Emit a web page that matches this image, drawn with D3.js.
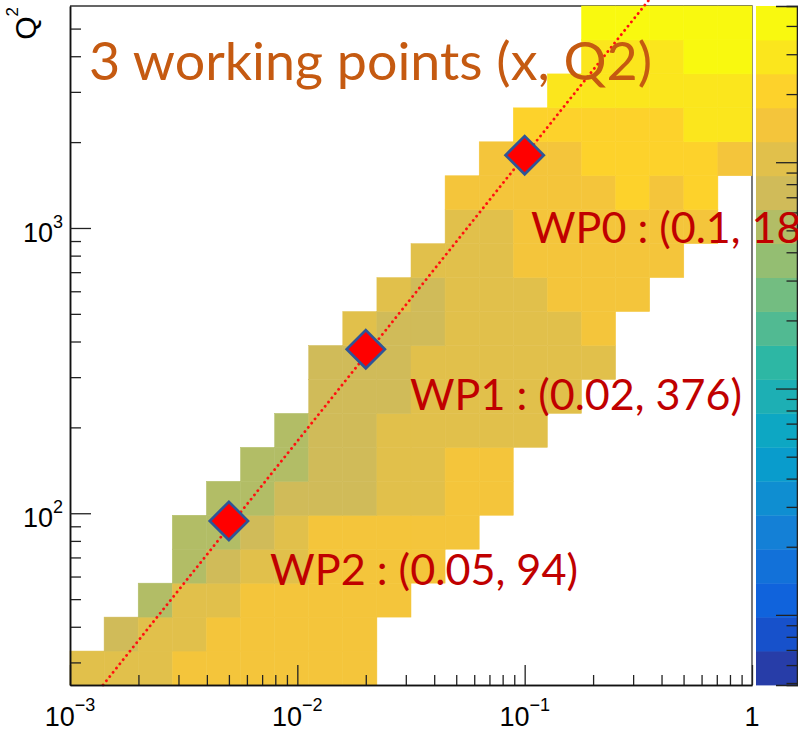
<!DOCTYPE html>
<html>
<head>
<meta charset="utf-8">
<script src="https://cdn.jsdelivr.net/npm/d3@7"></script>
<style>
  html, body { margin: 0; padding: 0; background: #ffffff; }
  svg { display: block; }
</style>
</head>
<body>
<svg id="chart" width="798" height="731"></svg>
<script>
// ---- Histogram binning: 20 log-spaced bins in x and in Q2 ----
const xRange = [1e-3, 1];
const q2Range = [25, 6000];
const nBinsX = 20;
const nBinsY = 20;

// Entries per bin; first row is the lowest Q2 bin, columns run from low to high x
const binCounts = [
  [1010,1090,1050,1520,1610,1580,1490,1440,1360,0,0,0,0,0,0,0,0,0,0,0],
  [0,790,960,1120,1580,1660,1540,1470,1390,0,0,0,0,0,0,0,0,0,0,0],
  [0,0,560,1080,1150,1630,1590,1500,1420,1310,0,0,0,0,0,0,0,0,0,0],
  [0,0,0,540,760,980,1110,1560,1480,1400,1290,0,0,0,0,0,0,0,0,0],
  [0,0,0,500,590,830,1060,1520,1450,1380,1320,1270,0,0,0,0,0,0,0,0],
  [0,0,0,0,510,580,800,830,780,1140,1170,1350,1280,0,0,0,0,0,0,0],
  [0,0,0,0,0,490,570,820,810,1050,1160,1330,1270,0,0,0,0,0,0,0],
  [0,0,0,0,0,0,530,780,830,1000,1120,1150,1090,940,0,0,0,0,0,0],
  [0,0,0,0,0,0,0,700,820,760,1030,1140,1180,1100,990,0,0,0,0,0],
  [0,0,0,0,0,0,0,720,830,790,1010,1150,1190,1160,1080,960,0,0,0,0],
  [0,0,0,0,0,0,0,0,930,840,800,1060,1170,1190,1140,1280,0,0,0,0],
  [0,0,0,0,0,0,0,0,0,950,835,1080,1180,1190,1300,1380,1260,0,0,0],
  [0,0,0,0,0,0,0,0,0,0,940,1120,1190,1320,1410,1460,1390,1280,0,0],
  [0,0,0,0,0,0,0,0,0,0,0,1010,1170,1350,1480,1560,1620,1530,1400,0],
  [0,0,0,0,0,0,0,0,0,0,0,1290,1440,1580,1650,1690,1850,1680,1880,0],
  [0,0,0,0,0,0,0,0,0,0,0,0,1420,1560,1680,1900,2050,2010,1950,1650],
  [0,0,0,0,0,0,0,0,0,0,0,0,0,1880,2050,2160,2230,2280,2560,2610],
  [0,0,0,0,0,0,0,0,0,0,0,0,0,0,2520,2700,2860,2950,3050,3150],
  [0,0,0,0,0,0,0,0,0,0,0,0,0,0,0,2780,3050,3250,3700,3900],
  [0,0,0,0,0,0,0,0,0,0,0,0,0,0,0,3800,4200,4500,4650,4800]
];

// ---- Colour axis (log z, 20 contours, bird palette) ----
const zRange = [4.9, 4900];
const nContours = 20;
const paletteSize = 255;
const paletteStops = [0.0, 0.125, 0.25, 0.375, 0.5, 0.625, 0.75, 0.875, 1.0];
const paletteRed   = [0.2082, 0.0592, 0.0780, 0.0232, 0.1802, 0.5301, 0.8186, 0.9956, 0.9764];
const paletteGreen = [0.1664, 0.3599, 0.5041, 0.6419, 0.7178, 0.7492, 0.7328, 0.7862, 0.9832];
const paletteBlue  = [0.5293, 0.8684, 0.8385, 0.7914, 0.6425, 0.4662, 0.3499, 0.1968, 0.0539];
const zMajorTicks = [10, 100, 1000];

// ---- Axis ticks ----
const xMajorTicks = [1e-3, 1e-2, 1e-1, 1];
const xTickBase = ["10", "10", "10", "1"];
const xTickSup = ["\u22123", "\u22122", "\u22121", ""];
const yMajorTicks = [100, 1000];
const yTickBase = ["10", "10"];
const yTickSup = ["2", "3"];

// ---- Working points and the line they sit on ----
const wpX = [0.1, 0.02, 0.005];
const wpQ2 = [1800, 376, 94];
const wpLabels = ["WP0 : (0.1, 1800)", "WP1 : (0.02, 376)", "WP2 : (0.05, 94)"];
const lineSlope = 17900;          // Q2 = lineSlope * x
const lineQ2Span = [25, 6400];
const titleText = "3 working points (x, Q2)";

// ---------------------------------------------------------------
const svg = d3.select("#chart");
const plot = { left: 70, right: 752, top: 6, bottom: 685 };
const bar = { left: 756, right: 797 };

const x = d3.scaleLog().domain(xRange).range([plot.left, plot.right]);
const y = d3.scaleLog().domain(q2Range).range([plot.bottom, plot.top]);
const zPos = d3.scaleLog().domain(zRange).range([plot.bottom, plot.top]);
const zLevel = d3.scaleLog().domain(zRange).range([0, nContours]);

function birdColor(f) {
  let k = 1;
  while (k < paletteStops.length - 1 && f > paletteStops[k]) k++;
  const t = (f - paletteStops[k - 1]) / (paletteStops[k] - paletteStops[k - 1]);
  const lerp = (a) => Math.round(255 * (a[k - 1] + t * (a[k] - a[k - 1])));
  return d3.rgb(lerp(paletteRed), lerp(paletteGreen), lerp(paletteBlue)).formatHex();
}
const levelColors = d3.range(nContours).map(i =>
  birdColor(Math.floor((i + 0.99) * paletteSize / nContours) / paletteSize));
function colorFor(v) {
  const lvl = Math.max(0, Math.min(nContours - 1, Math.floor(zLevel(v) + 0.01)));
  return levelColors[lvl];
}

// Log-spaced bin edges
const lx0 = Math.log10(xRange[0]), lx1 = Math.log10(xRange[1]);
const ly0 = Math.log10(q2Range[0]), ly1 = Math.log10(q2Range[1]);
const xEdges = d3.range(nBinsX + 1).map(i => Math.pow(10, lx0 + i * (lx1 - lx0) / nBinsX));
const yEdges = d3.range(nBinsY + 1).map(j => Math.pow(10, ly0 + j * (ly1 - ly0) / nBinsY));

// Frame (top and right edges sit underneath the bins)
svg.append("path")
  .attr("d", `M${plot.left},${plot.top}H${plot.right}V${plot.bottom}`)
  .attr("fill", "none").attr("stroke", "#333").attr("stroke-width", 1.3);

// Bins
const cells = [];
binCounts.forEach((row, j) => row.forEach((v, i) => {
  if (v > 0) cells.push({ i, j, v });
}));
svg.append("g").selectAll("rect").data(cells).join("rect")
  .attr("x", d => x(xEdges[d.i]))
  .attr("y", d => y(yEdges[d.j + 1]))
  .attr("width", d => x(xEdges[d.i + 1]) - x(xEdges[d.i]))
  .attr("height", d => y(yEdges[d.j]) - y(yEdges[d.j + 1]))
  .attr("fill", d => colorFor(d.v))
  .attr("stroke", d => colorFor(d.v))
  .attr("stroke-width", 0.5);

// Colour bar
const zl0 = Math.log10(zRange[0]), zl1 = Math.log10(zRange[1]);
const bandEdges = d3.range(nContours + 1).map(i => Math.pow(10, zl0 + i * (zl1 - zl0) / nContours));
svg.append("g").selectAll("rect").data(d3.range(nContours)).join("rect")
  .attr("x", bar.left)
  .attr("y", i => zPos(bandEdges[i + 1]))
  .attr("width", bar.right - bar.left)
  .attr("height", i => zPos(bandEdges[i]) - zPos(bandEdges[i + 1]) + 0.4)
  .attr("fill", i => levelColors[i]);

const zMinor = [];
for (let e = 0; e <= 3; e++) {
  for (let m = 1; m <= 9; m++) {
    const v = m * Math.pow(10, e);
    if (v >= zRange[0] && v <= zRange[1] && !zMajorTicks.includes(v)) zMinor.push(v);
  }
}
const zAxisMinor = d3.axisRight(zPos).tickValues(zMinor).tickSize(-10.5).tickFormat("");
const zAxisMajor = d3.axisRight(zPos).tickValues(zMajorTicks).tickSize(-21).tickFormat("");
[zAxisMinor, zAxisMajor].forEach(ax => {
  const g = svg.append("g").attr("transform", `translate(${bar.right},0)`).call(ax);
  g.select(".domain").attr("stroke", "#222").attr("stroke-width", 1.3);
  g.selectAll(".tick line").attr("stroke", "#222").attr("stroke-width", 1.3);
});

// Line of the working points (dotted)
const linePts = lineQ2Span.map(q => ({ xv: q / lineSlope, q }));
svg.append("path")
  .datum(linePts)
  .attr("d", d3.line().x(d => x(d.xv)).y(d => y(d.q)))
  .attr("fill", "none")
  .attr("stroke", "#ff1010")
  .attr("stroke-width", 2.8)
  .attr("stroke-linecap", "round")
  .attr("stroke-dasharray", "0.1 5.3");

// Axes: ticks pointing into the frame
function minorTicks(lo, hi) {
  const out = [];
  for (let e = Math.floor(Math.log10(lo)); e <= Math.ceil(Math.log10(hi)); e++) {
    for (let m = 2; m <= 9; m++) {
      const v = m * Math.pow(10, e);
      if (v > lo && v < hi) out.push(v);
    }
  }
  return out;
}
const axisStyle = g => {
  g.select(".domain").attr("stroke", "#111").attr("stroke-width", 1.5);
  g.selectAll(".tick line").attr("stroke", "#222").attr("stroke-width", 1.3);
};
svg.append("g").attr("transform", `translate(0,${plot.bottom})`)
  .call(d3.axisBottom(x).tickValues(minorTicks(xRange[0], xRange[1])).tickSize(-10).tickSizeOuter(0).tickFormat(""))
  .call(axisStyle);
svg.append("g").attr("transform", `translate(0,${plot.bottom})`)
  .call(d3.axisBottom(x).tickValues(xMajorTicks).tickSize(-20).tickSizeOuter(0).tickFormat(""))
  .call(axisStyle);
svg.append("g").attr("transform", `translate(${plot.left},0)`)
  .call(d3.axisLeft(y).tickValues(minorTicks(q2Range[0], q2Range[1])).tickSize(-11).tickSizeOuter(0).tickFormat(""))
  .call(axisStyle);
svg.append("g").attr("transform", `translate(${plot.left},0)`)
  .call(d3.axisLeft(y).tickValues(yMajorTicks).tickSize(-21).tickSizeOuter(0).tickFormat(""))
  .call(axisStyle);

// Tick labels with exponents
const axisFont = "'Liberation Sans', Arial, Helvetica, sans-serif";
xMajorTicks.forEach((v, k) => {
  const t = svg.append("text")
    .attr("x", x(v)).attr("y", plot.bottom + 41)
    .attr("text-anchor", "middle")
    .attr("font-family", axisFont).attr("font-size", 27).attr("fill", "#000");
  t.append("tspan").text(xTickBase[k]);
  if (xTickSup[k]) t.append("tspan").attr("dy", -15).attr("font-size", 18).text(xTickSup[k]);
});
yMajorTicks.forEach((v, k) => {
  const t = svg.append("text")
    .attr("x", plot.left - 7).attr("y", y(v) + 14)
    .attr("text-anchor", "end")
    .attr("font-family", axisFont).attr("font-size", 27).attr("fill", "#000");
  t.append("tspan").text(yTickBase[k]);
  t.append("tspan").attr("dy", -14).attr("font-size", 18).text(yTickSup[k]);
});

// Q2 axis title, rotated at the top of the axis
const yTitle = svg.append("text")
  .attr("transform", `translate(36,7) rotate(-90)`)
  .attr("text-anchor", "end")
  .attr("font-family", axisFont).attr("font-size", 30).attr("fill", "#000");
yTitle.append("tspan").text("Q");
yTitle.append("tspan").attr("dy", -18).attr("font-size", 17).text("2");

// Working point markers
svg.append("g").selectAll("path").data(wpX.map((xv, k) => ({ xv, q: wpQ2[k] }))).join("path")
  .attr("transform", d => `translate(${x(d.xv)},${y(d.q)}) rotate(45)`)
  .attr("d", d3.symbol(d3.symbolSquare, 730)())
  .attr("fill", "#ff0000")
  .attr("stroke", "#2f5597")
  .attr("stroke-width", 2.7);

// Annotations
const noteFont = "Lato, 'Open Sans', 'Noto Sans', sans-serif";
svg.append("text")
  .attr("x", 89).attr("y", 80)
  .attr("font-family", noteFont).attr("font-size", 52)
  .attr("fill", "#c55a11")
  .attr("textLength", 563).attr("lengthAdjust", "spacingAndGlyphs")
  .text(titleText);

const labelX = [531, 410, 270];
const labelY = [243, 410, 585];
const labelLen = [332, 332, 308];
wpLabels.forEach((s, k) => {
  svg.append("text")
    .attr("x", labelX[k]).attr("y", labelY[k])
    .attr("font-family", noteFont).attr("font-size", 42.5)
    .attr("fill", "#c00000")
    .attr("textLength", labelLen[k]).attr("lengthAdjust", "spacingAndGlyphs")
    .text(s);
});
</script>
</body>
</html>
